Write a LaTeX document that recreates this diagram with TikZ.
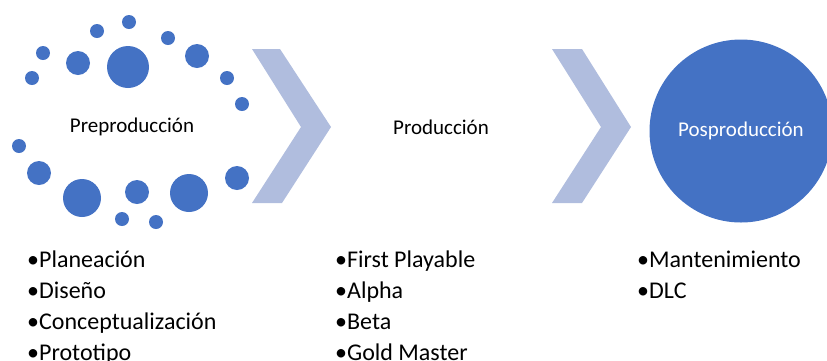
\documentclass[tikz,border=0pt]{standalone}
\usepackage{fontspec}
\setmainfont{Carlito}
\usepackage{xcolor}
\usetikzlibrary{positioning}
\definecolor{dotblue}{HTML}{4472C4}
\definecolor{chevblue}{HTML}{B0BDDE}

\tikzset{
    dot/.style={fill=dotblue, draw=none},
    chevron/.style={fill=chevblue, draw=none},
    stagelabel/.style={font=\fontsize{21}{25}\selectfont, inner sep=0pt},
    itemlist/.style={font=\fontsize{24}{31}\selectfont, align=left, anchor=north west, inner sep=0pt}
}

\begin{document}
\begin{tikzpicture}[x=1pt, y=-1pt]
        \useasboundingbox (0,0) rectangle (827,360);
        \clip (0,0) rectangle (827,360);

        % ring of dots round the first stage
        \foreach \cx/\cy/\r in {43/53/7, 32/78/7, 97/31/7, 129/22/7, 78/63/12, 128/67/21,
                168/38/7, 197/56/12, 227/78/7, 242/104/7, 19/146/7, 39/173/12,
                82/198/19, 137/192/12, 189/193/19, 237/178/12, 122/219/7, 156/222/7}
            \fill [dot] (\cx,\cy) circle (\r);
        \node [stagelabel] (pre) at (132,127) {Preproducción};

        % chevrons
        \fill [chevron] (252,49) -- (280,49) -- (331,127) -- (282,203) -- (252,203) -- (301,127) -- cycle;
        \node [stagelabel] (prod) at (441,127) {Producción};
        \fill [chevron] (552,49) -- (582,49) -- (631,127) -- (582,203) -- (552,203) -- (601,127) -- cycle;

        % last stage
        \fill [dot] (741,131) circle (91.5);
        \node [stagelabel, text=white] (pos) at (741,131) {Posproducción};

        % lists
        \node [itemlist] (prelist) at (27,250.5) {•Planeación\\•Diseño\\•Conceptualización\\•Prototipo};
        \node [itemlist] (prodlist) at (335,250.5) {•First Playable\\•Alpha\\•Beta\\•Gold Master};
        \node [itemlist] (poslist) at (637,250.5) {•Mantenimiento\\•DLC};
    \end{tikzpicture}
\end{document}
